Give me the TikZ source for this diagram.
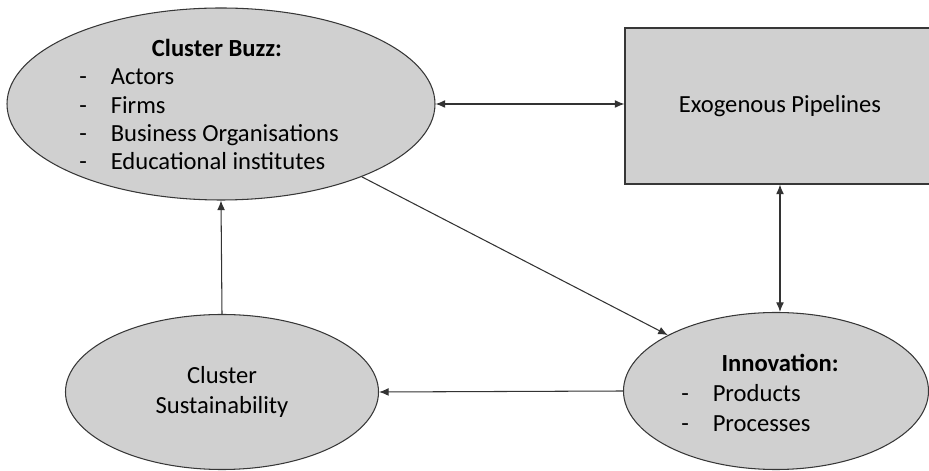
\documentclass[tikz,border=0pt]{standalone}
\usepackage{fontspec}
\setmainfont{Carlito}
\usetikzlibrary{shapes.geometric, arrows.meta, positioning, calc}
\definecolor{boxgray}{RGB}{208,208,208}
\definecolor{edgegray}{RGB}{55,55,55}

\begin{document}
\begin{tikzpicture}[font=\fontsize{14}{17}\selectfont, >={Latex[length=5.5pt,width=4.5pt]},
    blob/.style={ellipse, draw=edgegray, line width=0.6pt, fill=boxgray, inner sep=0pt, align=center},
    pipe/.style={rectangle, draw=edgegray, line width=0.6pt, fill=boxgray, align=center},
    lbl/.style={inner sep=0pt},
    link/.style={draw=black!80, line width=0.6pt}]
    \useasboundingbox (0,0) rectangle (18.58,-9.42);
    \node[blob, minimum width=8.56cm, minimum height=3.84cm] (buzz) at (4.42,-2.08) {};
    \node[pipe, minimum width=6.2cm, minimum height=3.12cm] (pipes) at (15.6,-2.12) {Exogenous Pipelines};
    \node[blob, minimum width=6.1cm, minimum height=3.14cm] (innov) at (15.52,-7.82) {};
    \node[blob, minimum width=6.26cm, minimum height=3.1cm] (sust) at (4.44,-7.84) {Cluster\\Sustainability};
    % texts of the two lists
    \node[lbl, anchor=base, font=\fontsize{14}{17}\selectfont\bfseries] (buzzhead) at ($(buzz.center)+(-0.08,0.94)$) {Cluster Buzz:};
    \node[lbl, anchor=base west, font=\fontsize{14}{16}\selectfont] (buzzlist) at ($(buzz.center)+(-2.84,0.38)$)
        {\begin{tabular}[t]{@{}l@{\hspace{13.6pt}}l@{}}
        - & Actors\\ - & Firms\\ - & Business Organisations\\ - & Educational institutes
        \end{tabular}};
    \node[lbl, anchor=base, font=\fontsize{14}{17}\selectfont\bfseries] (innovhead) at ($(innov.center)+(0.08,0.38)$) {Innovation:};
    \node[lbl, anchor=base west] (innovlist) at ($(innov.center)+(-1.9,-0.22)$)
        {\begin{tabular}[t]{@{}l@{\hspace{13.6pt}}l@{}}
        - & Products\\ - & Processes
        \end{tabular}};
    % connectors
    \draw[link, <->] (buzz.east) -- (buzz.east -| pipes.west);
    \draw[link, <->] (pipes.south) -- (pipes.south |- innov.north);
    \draw[link, ->] (buzz) -- (innov);
    \draw[link, ->] (innov.west) -- (sust.east);
    \draw[link, ->] (sust.north) -- (buzz.south);
\end{tikzpicture}
\end{document}
